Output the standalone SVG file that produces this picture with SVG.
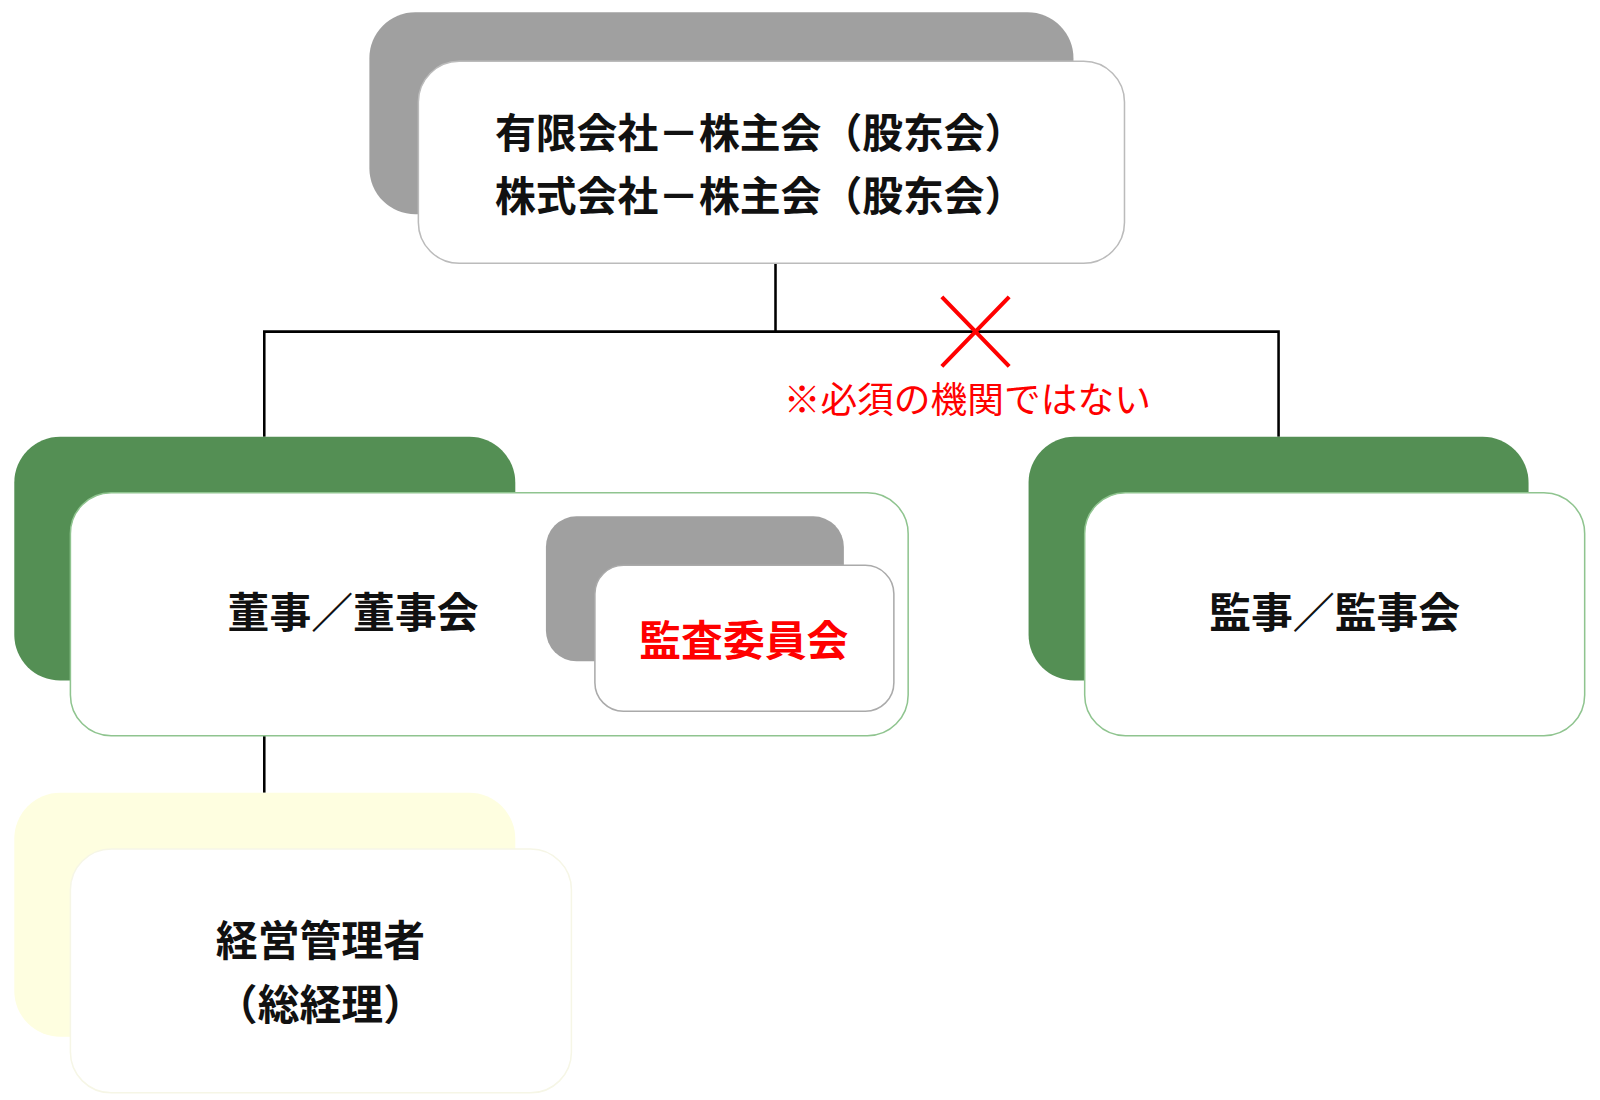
<svg xmlns="http://www.w3.org/2000/svg" width="1600" height="1100" viewBox="0 0 1600 1100">
<style>
.t{font-family:"Liberation Sans","Noto Sans CJK JP",sans-serif;font-weight:bold;font-size:41px;fill:#111;text-anchor:middle}
.ln{stroke:#000;stroke-width:2.5;fill:none}
.g{fill:#A0A0A0}
.gr{fill:#548F54}
.w{fill:#fff}
</style>
<rect width="1600" height="1100" fill="#fff"/>
<g transform="scale(1.0204)">
<g id="connectors">
<path class="ln" d="M760 258V325M259 428V325H1253V428M259 721V777"/>
<path d="M923 291L989 359M989 291L923 359" stroke="#f00" stroke-width="4"/>
<text x="768" y="405" font-family="Liberation Sans,'Noto Sans CJK JP',sans-serif" font-size="36" fill="#f00">※必須の機関ではない</text>
</g>
<g id="shareholders">
<rect class="g" x="362" y="12" width="690" height="198" rx="45"/>
<rect class="w" x="410" y="60" width="692" height="198" rx="40" stroke="#bbb" stroke-width="1.5"/>
<text class="t" x="745" y="145" style="font-size:40px">有限会社－株主会（股东会）</text>
<text class="t" x="745" y="207" style="font-size:40px">株式会社－株主会（股东会）</text>
</g>
<g id="board">
<rect class="gr" x="14" y="428" width="491" height="239" rx="45"/>
<rect class="w" x="69" y="483" width="821" height="238" rx="40" stroke="#8fc48f" stroke-width="1.5"/>
<text class="t" x="346" y="615">董事／董事会</text>
</g>
<g id="audit-committee">
<rect class="g" x="535" y="506" width="292" height="142" rx="30"/>
<rect class="w" x="583" y="554" width="293" height="143" rx="28" stroke="#aaa" stroke-width="1.5"/>
<text class="t" x="729" y="643" style="fill:#f00">監査委員会</text>
</g>
<g id="auditor">
<rect class="gr" x="1008" y="428" width="490" height="239" rx="45"/>
<rect class="w" x="1063" y="483" width="490" height="238" rx="40" stroke="#8fc48f" stroke-width="1.5"/>
<text class="t" x="1308" y="615">監事／監事会</text>
</g>
<g id="manager">
<rect x="14" y="777" width="491" height="239" rx="45" fill="#FEFEE0"/>
<rect class="w" x="69" y="832" width="491" height="239" rx="40" stroke="#f6f6e6" stroke-width="1.5"/>
<text class="t" x="314" y="937">経営管理者</text>
<text class="t" x="314" y="1000">（総経理）</text>
</g>
</g>
</svg>
